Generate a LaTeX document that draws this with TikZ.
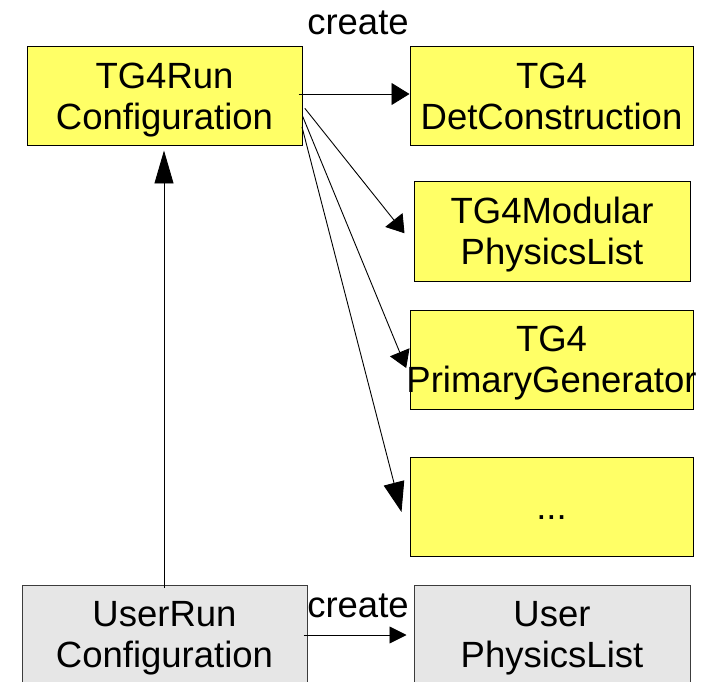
\documentclass[tikz,border=0pt]{standalone}
\usepackage{fontspec}
\setmainfont{Liberation Sans}
\usetikzlibrary{arrows.meta,calc}

\definecolor{classyellow}{RGB}{255,255,102}
\definecolor{classgray}{RGB}{230,230,230}
\definecolor{edgegray}{RGB}{60,60,60}

\tikzset{
  classbox/.style={draw=black, line width=1pt, minimum height=99pt,
    inner sep=0pt, fill=classyellow},
  userbox/.style={classbox, draw=edgegray, fill=classgray},
  boxtext/.style={font=\fontsize{36.5}{41}\selectfont, align=center,
    inner sep=0pt, yshift=-4.6pt},
  tag/.style={font=\fontsize{36.5}{41}\selectfont, inner sep=0pt, anchor=base},
  link/.style={draw=black, line width=0.9pt},
}

\begin{document}
\begin{tikzpicture}[x=1pt, y=-1pt]
\useasboundingbox (0,0) rectangle (713,682);
\clip (0,0) rectangle (713,682);

% class boxes
\node[classbox, minimum width=275pt] (run)  at (164.5,96.5)  {};
\node[classbox, minimum width=283pt] (det)  at (551.5,96.5)  {};
\node[classbox, minimum width=276pt] (mod)  at (552,231.5)   {};
\node[classbox, minimum width=283pt] (prim) at (551.5,359.5) {};
\node[classbox, minimum width=283pt] (more) at (551.5,506.5) {};
\node[userbox,  minimum width=285pt] (urun) at (164.5,634.5) {};
\node[userbox,  minimum width=276pt] (upl)  at (552,634.5)   {};

% class names
\node[boxtext] (runtxt)  at (run)  {\strut TG4Run\\\strut Configuration};
\node[boxtext] (dettxt)  at (det)  {\strut TG4\\\strut DetConstruction};
\node[boxtext] (modtxt)  at (mod)  {\strut TG4Modular\\\strut PhysicsList};
\node[boxtext] (primtxt) at (prim) {\strut TG4\\\strut PrimaryGenerator};
\node[boxtext] (moretxt) at (more) {\strut ...};
\node[boxtext] (uruntxt) at (urun) {\strut UserRun\\\strut Configuration};
\node[boxtext] (upltxt)  at (upl)  {\strut User\\\strut PhysicsList};

% relation labels
\node[tag] (create1) at (358,35)  {create};
\node[tag] (create2) at (358,617) {create};

% relations
\draw[link, -{Triangle[length=18pt,width=22pt]}]
  ($(run.east)+(-4,-2.5)$) -- ($(det.west)+(0,-2.5)$);
\draw[link, -{Triangle[length=17pt,width=22pt]}]
  ($(run.east)+(2.3,11.8)$) -- ($(mod.west)+(-9,1.8)$);
\draw[link, -{Triangle[length=17pt,width=21pt]}]
  ($(run.east)+(0,19.5)$) -- ($(prim.west)+(-3.3,8.5)$);
\draw[link, -{Triangle[length=30pt,width=21pt]}]
  ($(run.east)+(-0.5,30.5)$) -- ($(more.west)+(-8,5.5)$);
\draw[link, -{Triangle[length=33pt,width=19pt]}]
  ($(urun.north)+(-0.5,3)$) -- ($(run.south)+(-0.5,4)$);
\draw[link, -{Triangle[length=17pt,width=17pt]}]
  ($(urun.east)+(-4,0.5)$) -- ($(upl.west)+(-7,0.5)$);
\end{tikzpicture}
\end{document}
